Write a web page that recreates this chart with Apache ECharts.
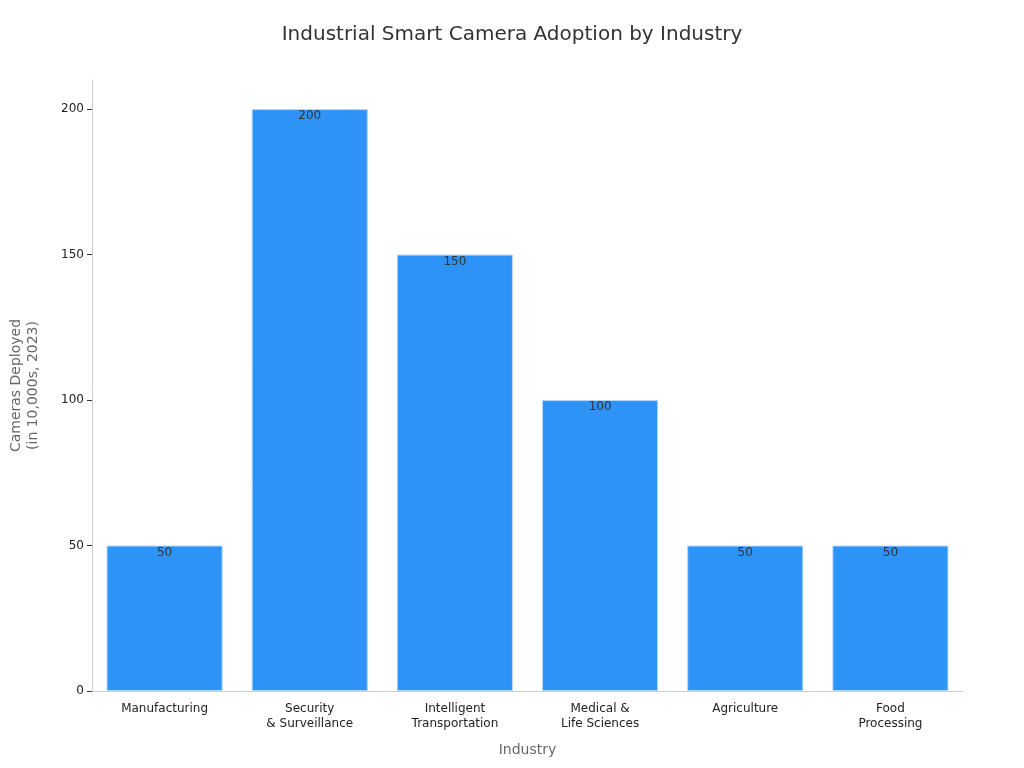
<!DOCTYPE html>
<html>
<head>
<meta charset="utf-8">
<script src="https://cdn.jsdelivr.net/npm/echarts@6/dist/echarts.min.js"></script>
<style>html,body{margin:0;padding:0;background:#fff}#main{width:1024px;height:768px}</style>
</head>
<body>
<div id="main"></div>
<script>
var industries = ['Manufacturing', 'Security\n& Surveillance', 'Intelligent\nTransportation', 'Medical &\nLife Sciences', 'Agriculture', 'Food\nProcessing'];
var cameras = [50, 200, 150, 100, 50, 50];
var yTicks = [0, 50, 100, 150, 200];

var chart = echarts.init(document.getElementById('main'));
chart.setOption({
    textStyle: { fontFamily: 'DejaVu Sans' },
    title: {
        text: 'Industrial Smart Camera Adoption by Industry',
        left: 'center', top: 20,
        textStyle: { fontSize: 20, fontWeight: 'normal', color: '#333' }
    },
    grid: { left: 87, right: 61, top: 80, bottom: 77 },
    xAxis: {
        type: 'category',
        data: industries,
        name: 'Industry',
        nameLocation: 'middle',
        nameGap: 52,
        nameTextStyle: { fontSize: 14, color: '#666' },
        axisLine: { lineStyle: { color: '#ccc' } },
        axisTick: { show: false },
        axisLabel: { color: '#222', fontSize: 12, lineHeight: 15, margin: 10 }
    },
    yAxis: {
        type: 'value',
        min: 0, max: 210, interval: 50,
        name: 'Cameras Deployed\n(in 10,000s, 2023)',
        nameLocation: 'middle',
        nameGap: 50,
        nameTextStyle: { fontSize: 14, color: '#666', lineHeight: 17 },
        axisLine: { show: true, lineStyle: { color: '#ccc' } },
        axisTick: { show: true, length: 5, lineStyle: { color: '#333' } },
        splitLine: { show: false },
        axisLabel: {
            color: '#222', fontSize: 12, showMaxLabel: false,
            formatter: function (v) { return yTicks.indexOf(v) >= 0 ? v : ''; }
        }
    },
    series: [{
        type: 'bar',
        data: cameras,
        barWidth: '80%',
        itemStyle: { color: '#2e93f7', borderColor: '#b5d7fb', borderWidth: 1 },
        label: { show: true, position: 'insideTop', color: '#333', fontSize: 12, offset: [0, -4] }
    }]
});
</script>
</body>
</html>
